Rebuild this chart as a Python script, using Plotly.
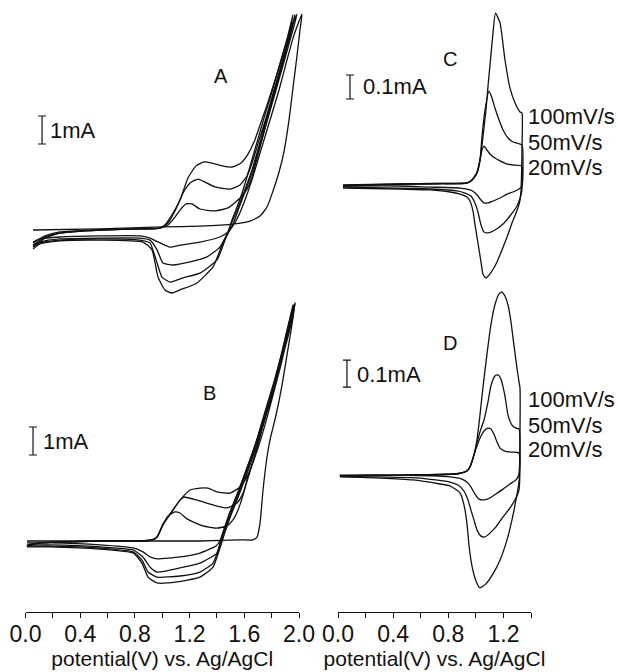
import plotly.graph_objects as go

# ---------------- Panel A (potential V, current mA) ----------------
A1_fwd_V = [0.055, 0.545, 1.005, 1.276, 1.517, 1.642, 1.715, 1.766, 1.810, 1.854, 1.890, 1.927, 1.956, 1.986, 2.007, 2.022]
A1_fwd_I = [0.00, 0.04, 0.11, 0.14, 0.21, 0.32, 0.50, 0.82, 1.39, 2.07, 2.79, 3.93, 5.07, 6.25, 7.14, 7.71]
A1_rev_V = [1.963, 1.912, 1.854, 1.788, 1.722, 1.656, 1.605, 1.561, 1.525, 1.481, 1.422, 1.276, 1.130, 1.057, 0.984, 0.910, 0.837, 0.545, 0.252, 0.106, 0.055]
A1_rev_I = [6.96, 6.07, 5.00, 3.93, 2.86, 1.79, 1.07, 0.54, 0.21, -0.07, -0.25, -0.43, -0.54, -0.61, -0.46, -0.29, -0.21, -0.21, -0.25, -0.32, -0.43]

A2_fwd_V = [0.055, 0.143, 0.252, 0.545, 0.837, 0.984, 1.042, 1.093, 1.130, 1.174, 1.217, 1.276, 1.386, 1.481, 1.569, 1.620, 1.656, 1.700, 1.751, 1.810, 1.868, 1.920, 1.956]
A2_fwd_I = [-0.46, -0.21, -0.07, 0.00, 0.04, 0.07, 0.18, 0.46, 0.71, 0.93, 0.93, 0.75, 0.68, 0.79, 1.14, 1.46, 1.89, 2.68, 3.64, 4.71, 5.79, 6.79, 7.68]
A2_rev_V = [1.920, 1.868, 1.810, 1.751, 1.693, 1.634, 1.591, 1.547, 1.510, 1.481, 1.422, 1.327, 1.203, 1.079, 1.005, 0.962, 0.910, 0.837, 0.545, 0.252, 0.106, 0.055]
A2_rev_I = [6.96, 6.07, 5.07, 4.11, 3.14, 2.14, 1.43, 0.82, 0.36, -0.07, -0.61, -0.96, -1.14, -1.25, -1.18, -0.71, -0.36, -0.29, -0.29, -0.32, -0.43, -0.54]

A3_fwd_V = [0.055, 0.143, 0.252, 0.545, 0.837, 0.984, 1.042, 1.093, 1.152, 1.203, 1.261, 1.313, 1.386, 1.496, 1.569, 1.620, 1.664, 1.708, 1.759, 1.817, 1.876, 1.927, 1.971]
A3_fwd_I = [-0.54, -0.25, -0.11, 0.00, 0.04, 0.07, 0.25, 0.68, 1.32, 1.68, 1.82, 1.71, 1.54, 1.46, 1.61, 1.93, 2.50, 3.21, 4.00, 5.00, 6.00, 6.89, 7.68]
A3_rev_V = [1.934, 1.883, 1.825, 1.766, 1.708, 1.649, 1.598, 1.554, 1.510, 1.459, 1.400, 1.276, 1.152, 1.057, 0.998, 0.962, 0.910, 0.837, 0.545, 0.252, 0.106, 0.055]
A3_rev_I = [6.89, 6.00, 5.00, 4.00, 3.00, 2.04, 1.36, 0.79, 0.29, -0.36, -1.07, -1.54, -1.71, -1.86, -1.68, -1.18, -0.46, -0.36, -0.32, -0.36, -0.46, -0.61]

A4_fwd_V = [0.055, 0.143, 0.252, 0.545, 0.837, 0.984, 1.020, 1.071, 1.130, 1.188, 1.247, 1.305, 1.364, 1.437, 1.510, 1.576, 1.627, 1.671, 1.715, 1.766, 1.825, 1.883, 1.934, 1.986]
A4_fwd_I = [-0.61, -0.29, -0.11, 0.00, 0.04, 0.07, 0.18, 0.54, 1.07, 1.86, 2.29, 2.43, 2.39, 2.29, 2.25, 2.39, 2.71, 3.14, 3.75, 4.46, 5.36, 6.25, 7.14, 7.71]
A4_rev_V = [1.941, 1.890, 1.832, 1.773, 1.715, 1.656, 1.605, 1.561, 1.517, 1.444, 1.371, 1.254, 1.130, 1.071, 1.020, 0.969, 0.925, 0.859, 0.545, 0.252, 0.106, 0.055]
A4_rev_I = [6.89, 6.00, 5.00, 4.00, 3.00, 2.04, 1.36, 0.79, 0.21, -0.46, -1.32, -1.89, -2.14, -2.25, -2.14, -1.68, -0.71, -0.43, -0.36, -0.39, -0.50, -0.68]

# ---------------- Panel B ----------------
B1_fwd_V = [0.011, 0.545, 0.984, 1.276, 1.569, 1.664, 1.693, 1.715, 1.737, 1.766, 1.788, 1.832, 1.876, 1.912, 1.941, 1.971]
B1_fwd_I = [0.00, 0.00, 0.00, 0.00, 0.04, 0.04, 0.14, 0.64, 1.82, 3.00, 3.61, 4.50, 5.57, 6.64, 7.50, 8.46]
B1_rev_V = [1.934, 1.883, 1.825, 1.759, 1.693, 1.627, 1.554, 1.496, 1.452, 1.422, 1.393, 1.276, 1.130, 0.962, 0.910, 0.859, 0.786, 0.545, 0.179, 0.011]
B1_rev_I = [7.71, 6.82, 5.75, 4.68, 3.61, 2.71, 1.75, 1.04, 0.39, 0.00, -0.18, -0.43, -0.57, -0.64, -0.57, -0.39, -0.25, -0.14, -0.07, -0.07]

B2_fwd_V = [0.011, 0.106, 0.252, 0.545, 0.837, 0.925, 0.962, 1.005, 1.042, 1.093, 1.130, 1.181, 1.298, 1.400, 1.474, 1.517, 1.554, 1.591, 1.627, 1.678, 1.737, 1.795, 1.854, 1.905, 1.956]
B2_fwd_I = [-0.14, -0.07, -0.04, 0.00, 0.00, 0.04, 0.14, 0.57, 0.89, 1.04, 1.00, 0.79, 0.54, 0.46, 0.54, 0.75, 1.11, 1.64, 2.29, 3.07, 4.14, 5.21, 6.29, 7.36, 8.43]
B2_rev_V = [1.927, 1.876, 1.817, 1.751, 1.686, 1.620, 1.547, 1.488, 1.437, 1.400, 1.276, 1.130, 0.962, 0.910, 0.859, 0.786, 0.545, 0.179, 0.011]
B2_rev_I = [7.71, 6.75, 5.68, 4.61, 3.54, 2.61, 1.64, 0.93, 0.21, -0.43, -0.79, -0.96, -1.11, -0.93, -0.57, -0.32, -0.21, -0.14, -0.14]

B3_fwd_V = [0.011, 0.106, 0.252, 0.545, 0.837, 0.925, 0.962, 1.005, 1.079, 1.130, 1.159, 1.254, 1.371, 1.474, 1.547, 1.591, 1.627, 1.678, 1.737, 1.795, 1.854, 1.905, 1.963]
B3_fwd_I = [-0.18, -0.07, -0.04, 0.00, 0.00, 0.04, 0.14, 0.57, 1.11, 1.46, 1.57, 1.46, 1.29, 1.18, 1.36, 1.71, 2.25, 3.07, 4.14, 5.21, 6.29, 7.36, 8.43]
B3_rev_V = [1.934, 1.883, 1.825, 1.759, 1.693, 1.627, 1.554, 1.496, 1.452, 1.371, 1.276, 1.130, 0.962, 0.896, 0.852, 0.786, 0.545, 0.179, 0.011]
B3_rev_I = [7.71, 6.75, 5.68, 4.61, 3.54, 2.61, 1.64, 0.93, 0.32, -0.79, -1.11, -1.25, -1.29, -1.11, -0.68, -0.39, -0.25, -0.18, -0.18]

B4_fwd_V = [0.011, 0.106, 0.252, 0.545, 0.837, 0.925, 0.962, 1.005, 1.057, 1.130, 1.203, 1.276, 1.335, 1.400, 1.496, 1.569, 1.620, 1.656, 1.700, 1.751, 1.810, 1.868, 1.920, 1.971]
B4_fwd_I = [-0.18, -0.07, -0.04, 0.00, 0.00, 0.04, 0.14, 0.61, 0.96, 1.46, 1.82, 1.89, 1.89, 1.75, 1.71, 1.93, 2.29, 2.71, 3.32, 4.14, 5.21, 6.29, 7.36, 8.50]
B4_rev_V = [1.941, 1.890, 1.832, 1.766, 1.700, 1.634, 1.561, 1.503, 1.459, 1.371, 1.276, 1.108, 0.962, 0.896, 0.852, 0.786, 0.545, 0.179, 0.011]
B4_rev_I = [7.71, 6.75, 5.68, 4.61, 3.54, 2.61, 1.64, 0.93, 0.32, -0.93, -1.29, -1.46, -1.50, -1.29, -0.79, -0.43, -0.29, -0.21, -0.21]

# ---------------- Panel C ----------------
C100_fwd_V = [0.036, 0.450, 0.740, 0.935, 0.972, 1.008, 1.030, 1.051, 1.073, 1.088, 1.109, 1.124, 1.142, 1.175, 1.211, 1.247, 1.284, 1.320, 1.334]
C100_fwd_I = [-0.008, -0.004, -0.002, 0.0, 0.0125, 0.042, 0.096, 0.192, 0.304, 0.404, 0.533, 0.625, 0.708, 0.667, 0.5125, 0.396, 0.333, 0.296, 0.292]
C100_rev_V = [1.334, 1.327, 1.320, 1.305, 1.262, 1.226, 1.189, 1.153, 1.102, 1.073, 1.051, 1.037, 1.015, 0.993, 0.979, 0.957, 0.935, 0.885, 0.812, 0.667, 0.450, 0.036]
C100_rev_I = [0.1375, -0.029, -0.071, -0.104, -0.167, -0.225, -0.279, -0.329, -0.379, -0.396, -0.379, -0.329, -0.25, -0.171, -0.117, -0.075, -0.058, -0.046, -0.0375, -0.029, -0.025, -0.021]

C50_fwd_V = [0.036, 0.450, 0.740, 0.935, 0.972, 1.008, 1.030, 1.044, 1.066, 1.095, 1.117, 1.138, 1.168, 1.197, 1.233, 1.269, 1.334]
C50_fwd_I = [-0.012, -0.006, -0.004, 0.0, 0.0125, 0.042, 0.096, 0.192, 0.304, 0.383, 0.354, 0.3125, 0.2625, 0.221, 0.1875, 0.171, 0.158]
C50_rev_V = [1.334, 1.327, 1.298, 1.247, 1.197, 1.138, 1.088, 1.059, 1.037, 1.015, 0.993, 0.964, 0.921, 0.863, 0.667, 0.450, 0.036]
C50_rev_I = [-0.029, -0.05, -0.096, -0.1375, -0.171, -0.196, -0.208, -0.204, -0.175, -0.121, -0.083, -0.054, -0.042, -0.033, -0.025, -0.021, -0.017]

C20_fwd_V = [0.036, 0.450, 0.740, 0.935, 0.972, 1.008, 1.030, 1.044, 1.059, 1.080, 1.102, 1.138, 1.175, 1.226, 1.269, 1.334]
C20_fwd_I = [-0.010, -0.004, -0.002, 0.0, 0.0125, 0.046, 0.096, 0.1375, 0.154, 0.1375, 0.121, 0.104, 0.092, 0.079, 0.075, 0.071]
C20_rev_V = [1.334, 1.313, 1.269, 1.226, 1.175, 1.124, 1.088, 1.059, 1.037, 1.015, 0.986, 0.957, 0.885, 0.667, 0.450, 0.036]
C20_rev_I = [-0.0125, -0.025, -0.0375, -0.046, -0.0625, -0.075, -0.083, -0.083, -0.071, -0.054, -0.0375, -0.029, -0.021, -0.017, -0.0125, -0.0125]

# ---------------- Panel D ----------------
D100_fwd_V = [0.0145, 0.450, 0.848, 0.899, 0.935, 0.957, 0.986, 1.008, 1.030, 1.051, 1.080, 1.109, 1.138, 1.168, 1.189, 1.211, 1.233, 1.255, 1.276, 1.298, 1.313, 1.320]
D100_fwd_I = [-0.007, -0.004, 0.0, 0.004, 0.011, 0.026, 0.070, 0.126, 0.219, 0.319, 0.441, 0.552, 0.626, 0.667, 0.674, 0.659, 0.626, 0.563, 0.478, 0.393, 0.341, 0.319]
D100_rev_V = [1.313, 1.291, 1.262, 1.226, 1.175, 1.124, 1.073, 1.030, 1.001, 0.972, 0.950, 0.935, 0.914, 0.885, 0.812, 0.740, 0.544, 0.305, 0.0145]
D100_rev_I = [-0.030, -0.096, -0.170, -0.244, -0.319, -0.370, -0.407, -0.422, -0.396, -0.341, -0.263, -0.181, -0.115, -0.070, -0.044, -0.037, -0.022, -0.015, -0.011]

D50_fwd_V = [0.0145, 0.450, 0.848, 0.899, 0.935, 0.957, 0.986, 1.008, 1.030, 1.059, 1.088, 1.109, 1.138, 1.160, 1.182, 1.211, 1.233, 1.262, 1.291, 1.313]
D50_fwd_I = [-0.007, -0.004, 0.0, 0.004, 0.011, 0.026, 0.070, 0.115, 0.156, 0.200, 0.267, 0.326, 0.363, 0.367, 0.352, 0.289, 0.219, 0.181, 0.170, 0.167]
D50_rev_V = [1.313, 1.291, 1.247, 1.197, 1.146, 1.102, 1.066, 1.037, 1.008, 0.986, 0.964, 0.943, 0.914, 0.870, 0.812, 0.595, 0.305, 0.0145]
D50_rev_I = [-0.059, -0.089, -0.126, -0.159, -0.196, -0.219, -0.233, -0.230, -0.207, -0.170, -0.133, -0.096, -0.063, -0.041, -0.030, -0.015, -0.011, -0.007]

D20_fwd_V = [0.0145, 0.450, 0.848, 0.899, 0.935, 0.957, 0.986, 1.008, 1.037, 1.066, 1.088, 1.109, 1.131, 1.153, 1.175, 1.211, 1.255, 1.313]
D20_fwd_I = [-0.004, -0.004, 0.0, 0.004, 0.011, 0.026, 0.070, 0.104, 0.141, 0.163, 0.170, 0.167, 0.148, 0.119, 0.096, 0.085, 0.081, 0.078]
D20_rev_V = [1.313, 1.291, 1.247, 1.197, 1.146, 1.102, 1.059, 1.022, 0.993, 0.964, 0.935, 0.899, 0.812, 0.450, 0.0145]
D20_rev_I = [0.0, -0.022, -0.037, -0.056, -0.074, -0.089, -0.096, -0.093, -0.074, -0.048, -0.030, -0.019, -0.011, -0.004, -0.004]

# tick labels and texts
tick_left = [0.0, 0.4, 0.8, 1.2, 1.6, 2.0]
tick_right = [0.0, 0.4, 0.8, 1.2]
xlabel = "potential(V) vs. Ag/AgCl"
rate_labels = ["100mV/s", "50mV/s", "20mV/s"]

FONT = "Liberation Sans, Arial, Helvetica, sans-serif"
W, H = 618, 672
LINE = dict(color="#111111", width=1.3)

fig = go.Figure()

def loop(fv, fi, rv, ri, xa, ya):
    fig.add_trace(go.Scatter(x=fv + rv, y=fi + ri, mode="lines", line=dict(**LINE, shape="spline", smoothing=0.5),
                             xaxis=xa, yaxis=ya, hoverinfo="skip"))

for fv, fi, rv, ri in [(A1_fwd_V, A1_fwd_I, A1_rev_V, A1_rev_I), (A2_fwd_V, A2_fwd_I, A2_rev_V, A2_rev_I),
                       (A3_fwd_V, A3_fwd_I, A3_rev_V, A3_rev_I), (A4_fwd_V, A4_fwd_I, A4_rev_V, A4_rev_I)]:
    loop(fv, fi, rv, ri, "x", "y")
for fv, fi, rv, ri in [(B1_fwd_V, B1_fwd_I, B1_rev_V, B1_rev_I), (B2_fwd_V, B2_fwd_I, B2_rev_V, B2_rev_I),
                       (B3_fwd_V, B3_fwd_I, B3_rev_V, B3_rev_I), (B4_fwd_V, B4_fwd_I, B4_rev_V, B4_rev_I)]:
    loop(fv, fi, rv, ri, "x2", "y2")
for fv, fi, rv, ri in [(C100_fwd_V, C100_fwd_I, C100_rev_V, C100_rev_I), (C50_fwd_V, C50_fwd_I, C50_rev_V, C50_rev_I),
                       (C20_fwd_V, C20_fwd_I, C20_rev_V, C20_rev_I)]:
    loop(fv, fi, rv, ri, "x3", "y3")
for fv, fi, rv, ri in [(D100_fwd_V, D100_fwd_I, D100_rev_V, D100_rev_I), (D50_fwd_V, D50_fwd_I, D50_rev_V, D50_rev_I),
                       (D20_fwd_V, D20_fwd_I, D20_rev_V, D20_rev_I)]:
    loop(fv, fi, rv, ri, "x4", "y4")

# scale bars (1 mA for A/B, 0.1 mA for C/D) drawn as error bars
scale_bars = [("x", "y", 0.121, 3.571, 0.5), ("x2", "y2", 0.055, 3.571, 0.5),
              ("x3", "y3", 0.087, 0.40, 0.05), ("x4", "y4", 0.065, 0.372, 0.05)]
for xa, ya, xv, yc, half in scale_bars:
    fig.add_trace(go.Scatter(x=[xv], y=[yc], mode="markers", marker=dict(size=1, color="rgba(0,0,0,0)"),
                             error_y=dict(type="data", array=[half], visible=True, color="#111111", thickness=1.2, width=4),
                             xaxis=xa, yaxis=ya, hoverinfo="skip"))

def px2paper(px, py):
    return px / W, 1 - py / H

ann = []
def text(t, px, py, size, anchor="left"):
    x, y = px2paper(px, py)
    ann.append(dict(text=t, x=x, y=y, xref="paper", yref="paper", xanchor=anchor, yanchor="middle",
                    showarrow=False, font=dict(family=FONT, size=size, color="#111111")))

text("A", 221, 76, 20, "center")
text("1mA", 48, 130, 22)
text("B", 209, 393, 20, "center")
text("1mA", 41, 441, 22)
text("C", 450, 59, 20, "center")
text("0.1mA", 361, 86, 22)
text("D", 450, 343, 20, "center")
text("0.1mA", 355, 374, 22)
for lbl, py in zip(rate_labels, [117, 142, 167]):
    text(lbl, 526, py, 22)
for lbl, py in zip(rate_labels, [399, 425, 450]):
    text(lbl, 526, py, 22)

hidden = dict(visible=False, fixedrange=True, automargin=False)
bottom = dict(showline=True, linecolor="#111111", linewidth=1, ticks="outside", ticklen=5, tickwidth=1,
              tickcolor="#111111", showgrid=False, zeroline=False, tickformat=".1f", automargin=False,
              fixedrange=True, ticklabelstandoff=-4,
              tickfont=dict(family=FONT, size=23, color="#111111"),
              minor=dict(ticks="outside", ticklen=5, tickwidth=1, tickcolor="#111111", dtick=0.2, showgrid=False),
              title=dict(text=xlabel, font=dict(family=FONT, size=21, color="#111111"), standoff=5))

fig.update_layout(
    width=W, height=H, margin=dict(l=0, r=0, t=0, b=0, autoexpand=False),
    paper_bgcolor="white", plot_bgcolor="rgba(0,0,0,0)", showlegend=False,
    xaxis=dict(domain=[0, 310 / W], range=[-0.18647, 2.08044], anchor="y", **hidden),
    yaxis=dict(domain=[1 - 300 / H, 1], range=[-2.5, 8.214], anchor="x", **hidden),
    xaxis2=dict(domain=[25.5 / W, 299 / W], range=[0, 2.0], tickvals=tick_left, anchor="y2", **bottom),
    yaxis2=dict(domain=[1 - 612 / H, 1 - 300 / H], range=[-2.536, 8.607], anchor="x2", **hidden),
    xaxis3=dict(domain=[320 / W, 1], range=[-0.1305, 2.0305], anchor="y3", **hidden),
    yaxis3=dict(domain=[1 - 300 / H, 1], range=[-0.4875, 0.7625], anchor="x3", **hidden),
    xaxis4=dict(domain=[338 / W, 531 / W], range=[0, 1.4], tickvals=tick_right, anchor="y4", **bottom),
    yaxis4=dict(domain=[1 - 612 / H, 1 - 280 / H], range=[-0.5111, 0.7185], anchor="x4", **hidden),
    annotations=ann,
)

fig.write_html("out.html", config={"displayModeBar": False, "staticPlot": True},
               post_script="document.body.style.margin='0';document.body.style.overflow='hidden';")
